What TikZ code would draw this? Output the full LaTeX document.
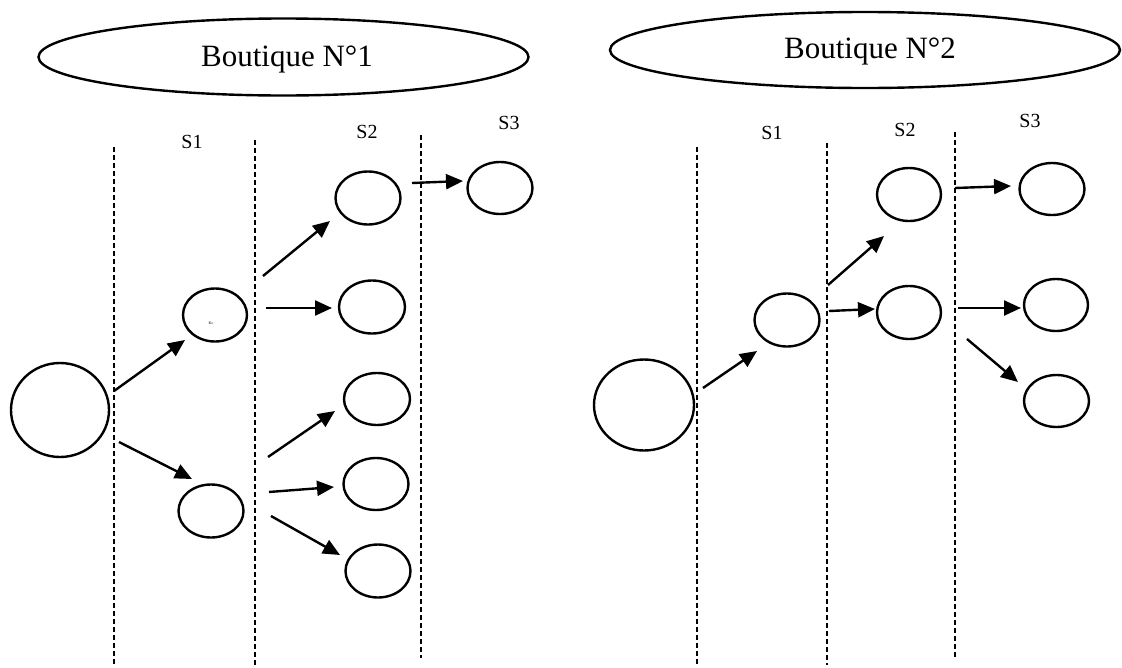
\documentclass[tikz,border=0pt]{standalone}
\usepackage{fontspec}
\setmainfont{Liberation Serif}
\usetikzlibrary{shapes.geometric,arrows.meta,calc}
\tikzset{
  state/.style={ellipse,draw,line width=2.4pt,inner sep=0pt},
  title/.style={ellipse,draw,line width=2.4pt,inner sep=0pt},
  titletext/.style={font=\fontsize{31}{31}\selectfont,anchor=base,inner sep=0pt},
  slabel/.style={font=\fontsize{20}{20}\selectfont,inner sep=0pt},
  arr/.style={line width=2.4pt,-{Triangle[length=17pt,width=15pt]}},
  sep/.style={line width=1.1pt,dash pattern=on 5pt off 3pt}
}
\begin{document}
\begin{tikzpicture}[x=1pt,y=-1pt]
\useasboundingbox (0,0) rectangle (1122,667);
% ---------- Boutique 1 ----------
\node[title,minimum width=490pt,minimum height=77pt] (t1) at (283.5,57) {};
\node[titletext] (t1txt) at (287,66) {Boutique N°1};
\draw[sep] (114,147) -- (114,665);
\draw[sep] (255,140) -- (255,665);
\draw[sep] (421,135) -- (421,658);
\node[slabel] (l11) at (192,142) {S1};
\node[slabel] (l12) at (367,132) {S2};
\node[slabel] (l13) at (509,123) {S3};
\node[state,minimum width=98pt,minimum height=94pt] (r1) at (60,410) {};
\node[state,minimum width=64pt,minimum height=53pt] (a1) at (215,315) {};
\node[font=\fontsize{4}{4}\selectfont,inner sep=0pt] (k1) at (211,323) {Kc};
\node[state,minimum width=65pt,minimum height=53pt] (b1) at (211,511) {};
\node[state,minimum width=65pt,minimum height=53pt] (c1) at (368,198) {};
\node[state,minimum width=66pt,minimum height=53pt] (d1) at (372,307) {};
\node[state,minimum width=66pt,minimum height=52pt] (e1) at (377,399) {};
\node[state,minimum width=65pt,minimum height=52pt] (f1) at (376,484) {};
\node[state,minimum width=65pt,minimum height=53pt] (g1) at (378,571) {};
\node[state,minimum width=65pt,minimum height=52pt] (h1) at (500,188) {};
\draw[arr] ($(r1)+(54,-19)$) -- ($(a1)+(-30,25)$);
\draw[arr] ($(r1)+(59,32)$) -- ($(b1)+(-19,-32)$);
\draw[arr] ($(a1)+(48,-39)$) -- ($(c1)+(-38,23)$);
\draw[arr] ($(a1)+(51,-7)$) -- ($(d1)+(-40,1)$);
\draw[arr] ($(b1)+(57,-54)$) -- ($(e1)+(-42,12)$);
\draw[arr] ($(b1)+(58,-19)$) -- ($(f1)+(-42,3)$);
\draw[arr] ($(b1)+(60,5)$) -- ($(g1)+(-38,-16)$);
\draw[arr] ($(c1)+(44,-15)$) -- ($(h1)+(-37,-7)$);
% ---------- Boutique 2 ----------
\node[title,minimum width=510pt,minimum height=76pt] (t2) at (865,50) {};
\node[titletext] (t2txt) at (870,58) {Boutique N°2};
\draw[sep] (697,147) -- (697,665);
\draw[sep] (827,143) -- (827,665);
\draw[sep] (955,132) -- (955,658);
\node[slabel] (l21) at (772,133) {S1};
\node[slabel] (l22) at (905,130) {S2};
\node[slabel] (l23) at (1030,121) {S3};
\node[state,minimum width=100pt,minimum height=91pt] (r2) at (644,405) {};
\node[state,minimum width=65pt,minimum height=53pt] (a2) at (787,320) {};
\node[state,minimum width=64pt,minimum height=53pt] (c2) at (909,194.5) {};
\node[state,minimum width=64pt,minimum height=53pt] (d2) at (909,312.5) {};
\node[state,minimum width=65pt,minimum height=52pt] (h2) at (1052,189) {};
\node[state,minimum width=64pt,minimum height=52pt] (i2) at (1056,305) {};
\node[state,minimum width=65pt,minimum height=52pt] (j2) at (1056.5,401) {};
\draw[arr] ($(r2)+(59,-17)$) -- ($(a2)+(-30,31)$);
\draw[arr] ($(a2)+(41,-35)$) -- ($(c2)+(-25,41.5)$);
\draw[arr] ($(a2)+(42,-9)$) -- ($(d2)+(-34,-3.5)$);
\draw[arr] ($(c2)+(46,-6.5)$) -- ($(h2)+(-41,-3)$);
\draw[arr] ($(d2)+(49,-4.5)$) -- ($(i2)+(-35,3)$);
\draw[arr] ($(d2)+(58,26.5)$) -- ($(j2)+(-38.5,-19)$);
\end{tikzpicture}
\end{document}
